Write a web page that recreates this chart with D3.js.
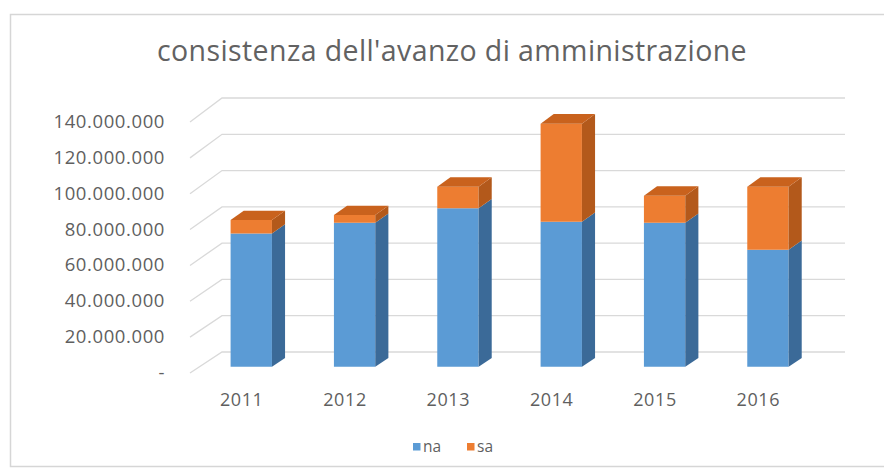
<!DOCTYPE html>
<html>
<head>
<meta charset="utf-8">
<script src="https://cdn.jsdelivr.net/npm/d3@7"></script>
<style>
  html, body { margin: 0; padding: 0; background: #ffffff; }
  svg { display: block; font-family: "Open Sans", "Liberation Sans", sans-serif; }
</style>
</head>
<body>
<svg id="chart" width="884" height="468"></svg>
<script>
// Data: year-end surplus split into two components
const years = ["2011", "2012", "2013", "2014", "2015", "2016"];
const na = [74000000, 80000000, 88000000, 80500000, 80000000, 65000000];
const sa = [7500000, 4300000, 12000000, 54500000, 15000000, 35000000];
const seriesNames = ["na", "sa"];
const yTicks = [0, 20000000, 40000000, 60000000, 80000000, 100000000, 120000000, 140000000];
const chartTitle = "consistenza dell'avanzo di amministrazione";

const W = 884, H = 468;
const svg = d3.select("#chart");

// Italian number formatting: dots for thousands, dash for zero
const it = d3.formatLocale({ decimal: ",", thousands: ".", grouping: [3], currency: ["€", ""] });
const fmt = v => v === 0 ? "-" : it.format(",.0f")(v);

// Outer chart frame
svg.append("rect")
  .attr("x", 10.5).attr("y", 14.5)
  .attr("width", 900).attr("height", 452)
  .attr("fill", "#ffffff")
  .attr("stroke", "#d6d6d6").attr("stroke-width", 1.5);

// Pseudo-3D projection: front plane and back wall, with depth t in [0,1]
const depth = { dx: 32 };
const x = d3.scaleBand().domain(years).range([190, 810]).paddingInner(0.6).paddingOuter(0.3);
const yFront = d3.scaleLinear().domain([0, 140000000]).range([373, 122]);
const yBack = d3.scaleLinear().domain([0, 140000000]).range([352, 98]);
const py = (v, t) => yFront(v) * (1 - t) + yBack(v) * t;
const px = (xv, t) => xv + depth.dx * t;
const backRight = 845;

// Gridlines on side wall and back wall
const grid = svg.append("g").attr("fill", "none").attr("stroke", "#d9d9d9").attr("stroke-width", 1.3);
yTicks.forEach(v => {
  grid.append("path")
    .attr("d", `M${px(190, 0)},${py(v, 0)} L${px(190, 1)},${py(v, 1)} L${backRight},${py(v, 1)}`);
});

// Value axis labels
svg.append("g").selectAll("text").data(yTicks).join("text")
  .attr("x", 165).attr("y", d => yFront(d) + 6)
  .attr("text-anchor", "end")
  .attr("font-size", 18.5)
  .attr("letter-spacing", 0.6)
  .attr("fill", "#5f5f5f")
  .text(d => fmt(d));

// Stacked 3D columns
const stacked = d3.stack().keys(seriesNames)(years.map((yr, i) => ({ year: yr, na: na[i], sa: sa[i] })));
const colors = {
  na: { front: "#5b9bd5", side: "#3b6a98", top: "#4f87bd" },
  sa: { front: "#ed7d31", side: "#b3591b", top: "#c9621d" }
};
const t0 = 0.3, t1 = 0.71;
const bars = svg.append("g");
stacked.forEach((layer, li) => {
  const c = colors[layer.key];
  layer.forEach((seg, i) => {
    const yr = years[i];
    const xl = x(yr), xr = x(yr) + x.bandwidth();
    const v0 = seg[0], v1 = seg[1];
    const g = bars.append("g");
    // front face
    g.append("path").attr("fill", c.front)
      .attr("d", `M${px(xl, t0)},${py(v0, t0)} L${px(xr, t0)},${py(v0, t0)} L${px(xr, t0)},${py(v1, t0)} L${px(xl, t0)},${py(v1, t0)} Z`);
    // right side face
    g.append("path").attr("fill", c.side)
      .attr("d", `M${px(xr, t0)},${py(v0, t0)} L${px(xr, t1)},${py(v0, t1)} L${px(xr, t1)},${py(v1, t1)} L${px(xr, t0)},${py(v1, t0)} Z`);
    // top face on the uppermost segment
    if (li === stacked.length - 1) {
      g.append("path").attr("fill", c.top)
        .attr("d", `M${px(xl, t0)},${py(v1, t0)} L${px(xr, t0)},${py(v1, t0)} L${px(xr, t1)},${py(v1, t1)} L${px(xl, t1)},${py(v1, t1)} Z`);
    }
  });
});

// Category labels along the front floor edge
svg.append("g").selectAll("text").data(years).join("text")
  .attr("x", d => x(d) + x.bandwidth() / 2)
  .attr("y", 406)
  .attr("text-anchor", "middle")
  .attr("font-size", 18)
  .attr("letter-spacing", 0.6)
  .attr("fill", "#5f5f5f")
  .text(d => d);

// Title
svg.append("text")
  .attr("x", 452).attr("y", 61)
  .attr("text-anchor", "middle")
  .attr("font-size", 28.5)
  .attr("letter-spacing", 0.4)
  .attr("fill", "#626262")
  .text(chartTitle);

// Legend
const legend = svg.append("g").attr("font-size", 15.5).attr("fill", "#5f5f5f");
const legendItems = [
  { name: "na", color: colors.na.front, x: 413 },
  { name: "sa", color: colors.sa.front, x: 467 }
];
legendItems.forEach(d => {
  legend.append("rect").attr("x", d.x).attr("y", 443).attr("width", 7.5).attr("height", 7.5).attr("fill", d.color);
  legend.append("text").attr("x", d.x + 10).attr("y", 452).text(d.name);
});
</script>
</body>
</html>
